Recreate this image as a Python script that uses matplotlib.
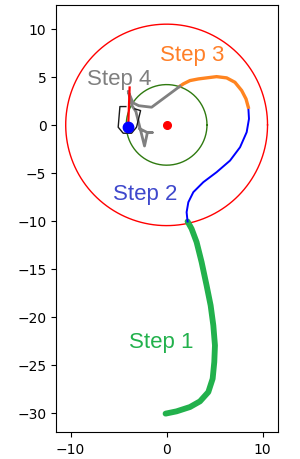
import numpy as np
import matplotlib
matplotlib.use('Agg')
import matplotlib.pyplot as plt

# Step 1 trajectory (green)
step1_x = [-0.11, 1.04, 2.43, 3.47, 4.34, 4.79, 4.96, 5.03, 4.86, 4.58, 4.16, 3.64, 3.12, 2.60, 2.18]
step1_y = [-30.1, -29.86, -29.41, -28.82, -27.85, -26.46, -24.72, -22.99, -20.9, -18.82, -16.74, -14.3, -12.22, -10.83, -10.07]

# Step 2 trajectory (blue)
step2_x = [2.18, 2.08, 2.26, 2.78, 3.82, 5.20, 6.60, 7.64, 8.33, 8.57, 8.50]
step2_y = [-10.07, -9.1, -8.06, -7.01, -5.97, -4.93, -3.72, -2.33, -0.76, 0.63, 1.84]

# Step 3 trajectory (orange)
step3_x = [8.50, 8.26, 7.81, 7.11, 6.25, 5.20, 4.16, 3.30, 2.43, 1.73, 1.39]
step3_y = [1.84, 2.71, 3.58, 4.44, 4.90, 5.03, 4.90, 4.79, 4.62, 4.27, 4.03]

# Step 4 trajectory (gray)
step4_x = [1.39, -1.56, -2.9, -3.5, -4.0, -3.6, -3.2, -2.3, -2.0, -1.5, -2.0, -2.8]
step4_y = [4.03, 1.84, 2.0, 2.3, 3.5, 2.0, 1.4, -2.2, -0.8, -0.8, -0.8, -0.4]

# parking outline (black)
outline_x = [-4.24, -4.86, -5.04, -4.52, -3.65, -3.13, -2.71, -3.30]
outline_y = [1.91, 1.91, -0.24, -0.87, -0.87, -0.24, 1.49, 1.67]

# heading line (red)
heading_x = [-3.85, -4.0]
heading_y = [3.9, -0.25]

target = (0.0, 0.0)
vehicle = (-4.0, -0.25)
r_outer = 10.5
r_inner = 4.2

labels = ['Step 1', 'Step 2', 'Step 3', 'Step 4']
label_x = [-0.6, -2.2, 2.7, -4.9]
label_y = [-22.6, -7.2, 7.3, 4.8]
label_colors = ['#22b14c', '#3f48cc', '#ff7f27', '#7f7f7f']

fig = plt.figure(figsize=(3.0, 4.6), dpi=100)
ax = fig.add_axes([0.187, 0.059, 0.740, 0.928])

t = np.linspace(0, 2 * np.pi, 300)
ax.plot(r_outer * np.cos(t), r_outer * np.sin(t), color='#ff0000', lw=1.0)
ax.plot(r_inner * np.cos(t), r_inner * np.sin(t), color='#2f7a10', lw=1.0)

ax.plot(step1_x, step1_y, color='#22b14c', lw=4.2, solid_capstyle='round',
        solid_joinstyle='round')
ax.plot(step2_x, step2_y, color='#0000ff', lw=1.4, solid_joinstyle='round')
ax.plot(step3_x, step3_y, color='#ff8420', lw=2.4, solid_joinstyle='round')
ax.plot(step4_x, step4_y, color='#808080', lw=2.0)
ax.plot(outline_x, outline_y, color='#1a1a1a', lw=1.0)
ax.plot(heading_x, heading_y, color='#ff0000', lw=1.6)

ax.plot(*target, 'o', color='#ff0000', ms=5.5)
ax.plot(*vehicle, 'o', color='#0000ff', ms=7.5)

for lab, lx, ly, c in zip(labels, label_x, label_y, label_colors):
    ax.text(lx, ly, lab, color=c, fontsize=16, ha='center', va='center',
            family='Liberation Sans')

ax.set_xlim(-11.5, 11.6)
ax.set_ylim(-32.0, 12.5)
ax.set_xticks([-10, 0, 10])
ax.set_yticks([10, 5, 0, -5, -10, -15, -20, -25, -30])

fig.savefig('out.png', dpi=100)
